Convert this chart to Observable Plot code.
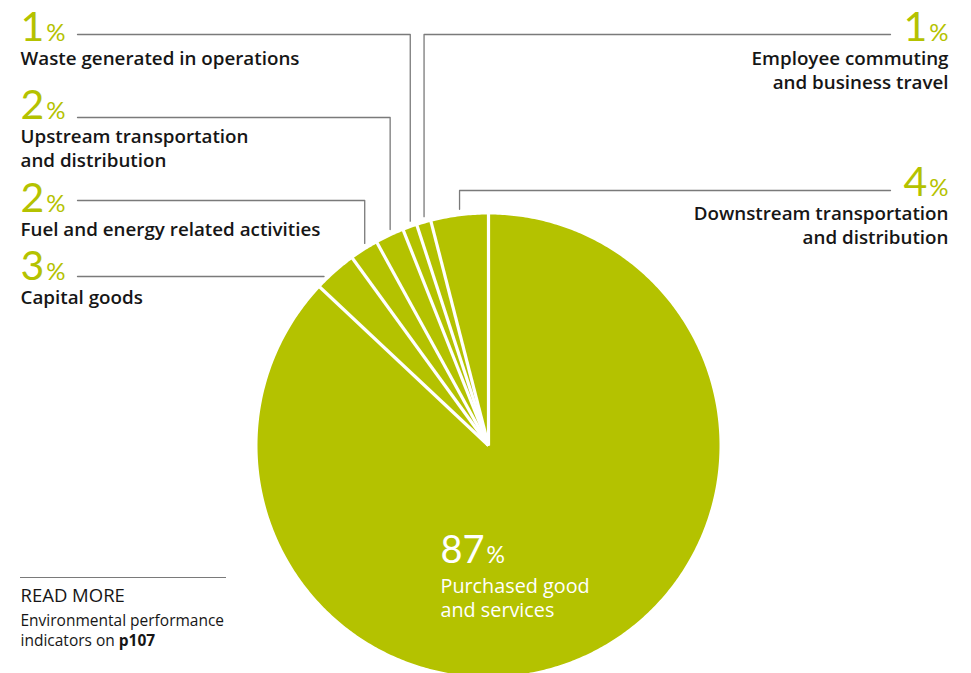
<!DOCTYPE html>
<html><head><meta charset="utf-8">
<script src="https://cdn.jsdelivr.net/npm/d3@7"></script>
<script src="https://cdn.jsdelivr.net/npm/@observablehq/plot@0.6"></script>
<style>body{margin:0;background:#fff} svg{display:block}</style>
</head><body><div id="chart"></div><script>
// ---- data ----
const categories = ["Purchased good and services","Capital goods","Fuel and energy related activities","Upstream transportation and distribution","Waste generated in operations","Employee commuting and business travel","Downstream transportation and distribution"];
const shares = [87, 3, 2, 2, 1, 1, 4];
const labelLines = [["Purchased good","and services"],["Capital goods"],["Fuel and energy related activities"],["Upstream transportation","and distribution"],["Waste generated in operations"],["Employee commuting","and business travel"],["Downstream transportation","and distribution"]];
const noteTitle = "READ MORE";
const noteLines = ["Environmental performance", "indicators on "];
const noteLink = "p107";

// ---- layout (pixels) ----
const W = 971, H = 673;
const cx = 488, cy = 445, R = 231;
const side =      ["inside","left","left","left","left","right","right"];
const numBase =   [562, 279, 211, 118, 40, 40, 195];
const leaderY =   [null, 276, 200, 117, 34, 34, 190];
const leftX = 20, rightX = 948, leftLineX = 77, rightLineX = 890, insideX = 440;
const GREEN = "#b4c200", INK = "#161616", GREY = "#7a7a7a";
const NUMFONT = "Lato";
const TXTFONT = "Open Sans";
const numSize = 41, pctSize = 24, txtSize = 18.8, lineGap = 24;

const ctx = document.createElement("canvas").getContext("2d");
function tw(s, size, weight, fam) { ctx.font = `${weight} ${size}px "${fam}"`; return ctx.measureText(s).width; }

// ---- pie geometry from data ----
const arcs = d3.pie().sort(null).startAngle(0).endAngle(2*Math.PI)(shares);
const P = (a, r) => [cx + r*Math.sin(a), cy - r*Math.cos(a)];
const slicePts = [];
arcs.forEach((a, i) => {
  slicePts.push({k: i, x: cx, y: cy});
  const n = Math.max(2, Math.ceil((a.endAngle - a.startAngle)/0.01));
  for (let j = 0; j <= n; j++) {
    const [x, y] = P(a.startAngle + (a.endAngle - a.startAngle)*j/n, R);
    slicePts.push({k: i, x, y});
  }
});
const seps = arcs.map(a => { const [x, y] = P(a.startAngle, R + 2); return {x1: cx, y1: cy, x2: x, y2: y}; });

// ---- leaders ----
const gap = 7;
const leaderPts = [];
arcs.forEach((a, i) => {
  if (side[i] === "inside") return;
  const mid = (a.startAngle + a.endAngle)/2;
  const xm = cx + R*Math.sin(mid);
  const yArc = cy - Math.sqrt(R*R - (xm-cx)**2);
  const ly = leaderY[i];
  const x0 = side[i] === "left" ? leftLineX : rightLineX;
  leaderPts.push({k: i, x: x0, y: ly});
  if (ly < yArc - gap) {
    leaderPts.push({k: i, x: xm, y: ly});
    leaderPts.push({k: i, x: xm, y: yArc - gap});
  } else {
    const dx = Math.sqrt(R*R - (cy-ly)**2);
    leaderPts.push({k: i, x: side[i] === "left" ? cx - dx - gap : cx + dx + gap, y: ly});
  }
});

// ---- labels ----
const nums = [], pcts = [], texts = [];
shares.forEach((v, i) => {
  const s = String(v);
  const inside = side[i] === "inside";
  const col = inside ? "#fff" : GREEN;
  const ns = inside ? 38 : numSize, ps = inside ? 23 : pctSize;
  const nw = tw(s, ns, 400, NUMFONT), pw = tw("%", ps, 400, NUMFONT);
  let nx, px, anchor, tx;
  if (side[i] === "right") { px = rightX; nx = rightX - pw - 2; anchor = "end"; tx = rightX; }
  else { const x0 = side[i] === "left" ? leftX : insideX; nx = x0; px = x0 + nw + 2; anchor = "start"; tx = x0; }
  nums.push({t: s, x: nx, y: numBase[i], a: anchor, c: col, s: ns});
  pcts.push({t: "%", x: px, y: numBase[i], a: anchor, c: col, s: ps});
  labelLines[i].forEach((ln, j) => texts.push({t: ln, x: tx, y: numBase[i] + (inside ? 30 : lineGap) + j*lineGap, a: anchor,
    c: inside ? "#fff" : INK, w: inside ? 400 : 600, s: inside ? 19.8 : txtSize}));
});

const txt = (data, opts) => Plot.text(data, {x: "x", y: "y", text: "t", lineAnchor: "bottom", ...opts});

const noteSize = 15.5;
const noteW = tw(noteLines[1], noteSize, 400, TXTFONT);

const chart = Plot.plot({
  width: W, height: H, margin: 0,
  x: {domain: [0, W], range: [0, W], axis: null},
  y: {domain: [0, H], range: [0, H], axis: null},
  marks: [
    Plot.line(slicePts, {x: "x", y: "y", z: "k", fill: GREEN, stroke: "none", curve: "linear-closed"}),
    Plot.link(seps, {x1: "x1", y1: "y1", x2: "x2", y2: "y2", stroke: "#fff", strokeWidth: 3.2}),
    Plot.line(leaderPts, {x: "x", y: "y", z: "k", stroke: GREY, strokeWidth: 1.3}),
    ...nums.map(d => txt([d], {fill: d.c, fontSize: d.s, fontWeight: 400, fontFamily: NUMFONT, textAnchor: d.a})),
    ...pcts.map(d => txt([d], {fill: d.c, fontSize: d.s, fontWeight: 400, fontFamily: NUMFONT, textAnchor: d.a})),
    ...texts.map(d => txt([d], {fill: d.c, fontSize: d.s, fontWeight: d.w, fontFamily: TXTFONT, textAnchor: d.a})),
    Plot.ruleY([577], {x1: 20, x2: 226, stroke: GREY, strokeWidth: 1.2}),
    Plot.text([noteTitle], {x: 20, y: 601, text: d => d, textAnchor: "start", lineAnchor: "bottom", fontFamily: TXTFONT, fontSize: 18.5, fill: INK}),
    Plot.text(noteLines, {x: 20, y: (d, i) => 625 + i*20, text: d => d, textAnchor: "start", lineAnchor: "bottom", fontFamily: TXTFONT, fontSize: noteSize, fill: INK}),
    Plot.text([noteLink], {x: 20 + noteW, y: 645, text: d => d, textAnchor: "start", lineAnchor: "bottom", fontFamily: TXTFONT, fontSize: noteSize, fontWeight: 700, fill: INK})
  ]
});
document.getElementById("chart").append(chart);
</script></body></html>
